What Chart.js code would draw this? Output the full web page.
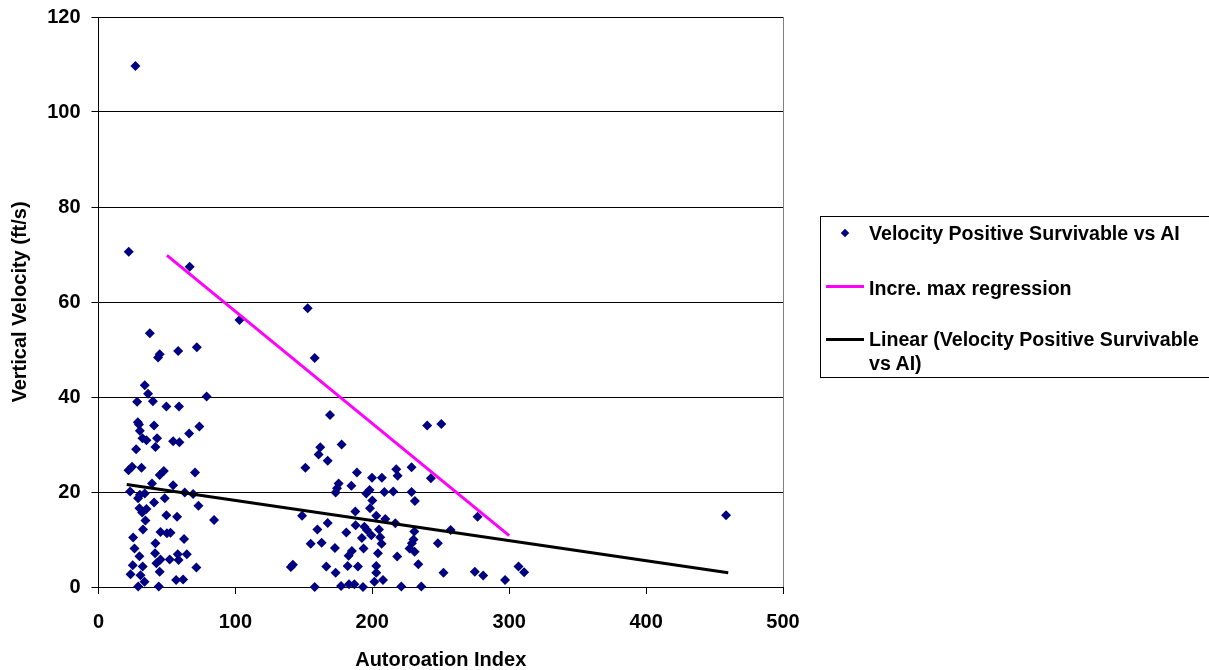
<!DOCTYPE html>
<html>
<head>
<meta charset="utf-8">
<title>Vertical Velocity vs Autoroation Index</title>
<script src="https://cdn.jsdelivr.net/npm/chart.js@4/dist/chart.umd.min.js"></script>
<style>
    body { margin: 0; background: #fff; overflow: hidden; }
    #wrap { position: relative; width: 1209px; height: 670px; }
    #legend {
        position: absolute; left: 820px; top: 216px; width: 420px; height: 162px;
        border: 1px solid #000; box-sizing: border-box;
        font: bold 19.6px "Liberation Sans", Arial, sans-serif; color: #000;
    }
    #legend .item { position: absolute; left: 48px; white-space: nowrap; line-height: 24px; }
    #legend .diamond {
        position: absolute; left: 21px; width: 6px; height: 6px;
        background: #000080; transform: rotate(45deg);
    }
    #legend .swatch { position: absolute; left: 5px; width: 38px; height: 3px; }
</style>
</head>
<body>
<div id="wrap">
    <canvas id="chart" width="1209" height="670"></canvas>
    <div id="legend">
        <span class="diamond" style="top: 13px;"></span>
        <span class="item" style="top: 4px;">Velocity Positive Survivable vs AI</span>
        <span class="swatch" style="top: 68px; background: #ff00ff;"></span>
        <span class="item" style="top: 59px;">Incre. max regression</span>
        <span class="swatch" style="top: 121px; background: #000;"></span>
        <span class="item" style="top: 110px;">Linear (Velocity Positive Survivable<br>vs AI)</span>
    </div>
</div>
<script>
// survivable cases: autorotation index vs vertical velocity (ft/s)
const aiIndex = [
    27, 22.1, 66.6, 103, 37.5, 44.7, 43.5, 58.2, 71.8, 33.8,
    36.2, 79, 28.2, 39.7, 49.6, 58.8, 28.7, 29.6, 40.6, 73.7,
    30.2, 32.1, 35, 42.8, 66.2, 54.5, 59.1, 41.6, 27.5, 21.9,
    24.5, 31.4, 44.7, 47.7, 70.5, 39.1, 54.5, 23.1, 30.2, 33.8,
    63, 69.1, 28.9, 48.4, 40.6, 73, 29.9, 35, 31.9, 49.6,
    57.4, 34.3, 84.4, 32.5, 45.3, 50, 52.6, 25.3, 62.5, 41.6,
    26.3, 29.9, 41.3, 45.3, 52, 57.9, 64.5, 58.5, 42.3, 25,
    32.3, 71.5, 23.4, 30.7, 44.7, 33.6, 29, 44, 56.7, 61.8,
    152.8, 157.9, 169.1, 240.1, 250.4, 162, 160.8, 177.6, 167.4, 151.1,
    188.8, 217.5, 218.5, 228.7, 242.8, 199.8, 207, 175.4, 184.7, 174.2,
    173.2, 198, 195.6, 208.8, 215.3, 228.7, 231.1, 200, 198.3, 148.7,
    187.6, 202.9, 209.5, 167.4, 187.8, 194.2, 216.8, 159.9, 196.1, 204.9,
    181, 230.7, 257.2, 199.3, 205.8, 192.4, 230.1, 155, 163, 206.8,
    228.9, 247.9, 172.7, 193.6, 227.2, 230.9, 185.1, 182.7, 204.1, 218.2,
    140.5, 142, 166.4, 182, 189.5, 202.9, 233.6, 173.2, 202.9, 252,
    207.8, 201.5, 157.9, 177.2, 183, 186.9, 193.2, 221.2, 235.8, 276.9,
    458.4, 274.9, 281, 297, 306.8, 310.9
];
const velocity = [
    109.7, 70.6, 67.4, 56.2, 53.4, 49.0, 48.3, 49.7, 50.5, 42.5,
    40.7, 40.1, 39.0, 39.1, 38.0, 38.0, 34.7, 34.2, 34.0, 33.8,
    32.9, 31.3, 30.9, 31.3, 32.3, 30.7, 30.5, 29.5, 29.0, 24.6,
    25.3, 25.1, 23.6, 24.4, 24.1, 21.8, 21.4, 20.1, 19.4, 19.7,
    19.9, 19.6, 18.7, 18.7, 17.8, 17.1, 16.6, 16.4, 15.7, 15.1,
    14.8, 14.0, 14.1, 12.1, 11.6, 11.3, 11.4, 10.4, 10.1, 9.2,
    8.1, 6.5, 7.1, 5.8, 5.8, 6.9, 6.9, 5.7, 5.0, 4.6,
    4.3, 4.1, 2.7, 2.5, 3.2, 1.1, 0.1, 0.1, 1.5, 1.6,
    58.7, 48.2, 36.2, 34.0, 34.3, 29.4, 27.9, 30.0, 26.6, 25.1,
    24.1, 24.8, 23.4, 25.2, 22.9, 23.0, 23.0, 21.8, 21.3, 20.8,
    19.9, 20.4, 19.7, 20.0, 20.1, 20.0, 18.1, 18.2, 16.6, 15.0,
    15.9, 15.0, 14.3, 13.5, 13.0, 12.7, 13.4, 12.1, 12.0, 12.1,
    11.5, 11.7, 12.0, 10.9, 10.5, 10.3, 10.0, 9.1, 9.3, 9.1,
    9.2, 9.2, 8.2, 8.1, 8.1, 7.4, 7.6, 6.6, 7.1, 6.4,
    4.2, 4.7, 4.3, 4.4, 4.3, 4.4, 4.8, 3.0, 3.0, 3.0,
    1.5, 1.1, 0, 0.2, 0.6, 0.6, 0, 0.1, 0.1, 14.8,
    15.1, 3.2, 2.4, 1.5, 4.3, 3.1
];

// "Incre. max regression" end points
const maxRegX = [50, 300];
const maxRegY = [69.8, 10.8];

// linear trendline end points
const trendX = [20.6, 460];
const trendY = [21.6, 3.0];

const xTicks = [0, 100, 200, 300, 400, 500];
const yTicks = [0, 20, 40, 60, 80, 100, 120];

const toPoints = (xs, ys) => xs.map((x, i) => ({ x: x, y: ys[i] }));

const axisFont = { family: '"Liberation Sans", Arial, sans-serif', size: 20, weight: 'bold' };

// gray right edge of the plot area
const plotBorder = {
    id: 'plotBorder',
    afterDraw(chart) {
        const { ctx, chartArea } = chart;
        ctx.save();
        ctx.strokeStyle = '#808080';
        ctx.lineWidth = 1;
        ctx.beginPath();
        ctx.moveTo(chartArea.right + 0.5, chartArea.top);
        ctx.lineTo(chartArea.right + 0.5, chartArea.bottom);
        ctx.stroke();
        ctx.restore();
    }
};

const ctx = document.getElementById('chart').getContext('2d');
new Chart(ctx, {
    type: 'scatter',
    data: {
        datasets: [
            {
                label: 'Incre. max regression',
                data: toPoints(maxRegX, maxRegY),
                showLine: true,
                borderColor: '#ff00ff',
                borderWidth: 3,
                pointRadius: 0,
                order: 1,
            },
            {
                label: 'Linear (Velocity Positive Survivable vs AI)',
                data: toPoints(trendX, trendY),
                showLine: true,
                borderColor: '#000000',
                borderWidth: 3,
                pointRadius: 0,
                order: 2,
            },
            {
                label: 'Velocity Positive Survivable vs AI',
                data: toPoints(aiIndex, velocity),
                pointStyle: 'rectRot',
                pointRadius: 5,
                pointBackgroundColor: '#000080',
                pointBorderColor: '#000080',
                pointBorderWidth: 0,
                clip: false,
                order: 3,
            }
        ]
    },
    options: {
        responsive: false,
        animation: false,
        layout: { padding: { left: 0, right: 426, top: 17, bottom: 0 } },
        plugins: {
            legend: { display: false },
            tooltip: { enabled: false },
        },
        scales: {
            x: {
                type: 'linear',
                min: xTicks[0],
                max: xTicks[xTicks.length - 1],
                afterBuildTicks: scale => { scale.ticks = xTicks.map(v => ({ value: v })); },
                afterFit: scale => {
                    scale.height = 83;
                    scale.paddingLeft = 0;
                    scale.paddingRight = 0;
                },
                ticks: { color: '#000', font: axisFont, padding: 16, maxRotation: 0 },
                grid: { drawOnChartArea: false, color: '#000', tickLength: 7 },
                border: { color: '#000', width: 1 },
                title: {
                    display: true,
                    text: 'Autoroation Index',
                    color: '#000',
                    font: { ...axisFont, lineHeight: 1 },
                    padding: { top: 0, bottom: 0 },
                },
            },
            y: {
                type: 'linear',
                min: yTicks[0],
                max: yTicks[yTicks.length - 1],
                afterBuildTicks: scale => { scale.ticks = yTicks.map(v => ({ value: v })); },
                afterFit: scale => {
                    scale.width = 98.5;
                    scale.paddingTop = 0;
                    scale.paddingBottom = 0;
                },
                ticks: { color: '#000', font: axisFont, padding: 11 },
                grid: { color: '#000', tickLength: 7 },
                border: { color: '#000', width: 1 },
                title: {
                    display: true,
                    text: 'Vertical Velocity (ft/s)',
                    color: '#000',
                    font: { ...axisFont, lineHeight: 1 },
                    padding: { top: 10, bottom: 0 },
                },
            }
        }
    },
    plugins: [plotBorder]
});
</script>
</body>
</html>
